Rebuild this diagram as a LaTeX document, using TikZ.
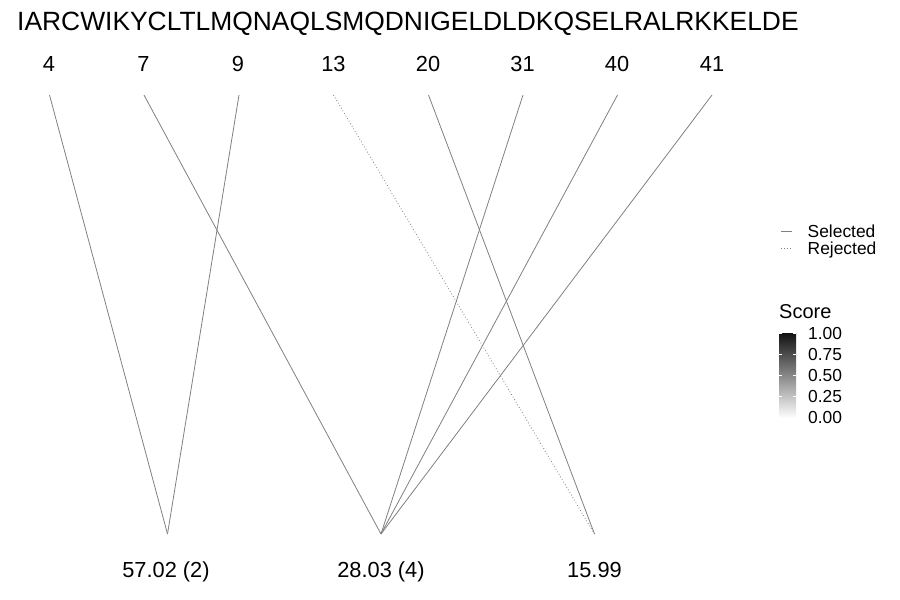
\documentclass[tikz,border=0pt]{standalone}
\usepackage{fontspec}
\setmainfont{Liberation Sans}
\begin{document}
\begin{tikzpicture}[x=1pt,y=-1pt,
  title/.style={font=\fontsize{26.4}{28}\selectfont, anchor=base west, inner sep=0pt},
  numlab/.style={font=\fontsize{21.8}{24}\selectfont, anchor=base, inner sep=0pt},
  leglab/.style={font=\fontsize{17.4}{19}\selectfont, anchor=base west, inner sep=0pt},
  sel/.style={draw=black!50, line width=0.8pt},
  rej/.style={draw=black!50, line width=0.8pt, dash pattern=on 0.8pt off 2.2pt},
  tick/.style={draw=white, line width=0.6pt}]
\useasboundingbox (0,0) rectangle (900,600);
% title
\node[title] (seq) at (17,30) {IARCWIKYCLTLMQNAQLSMQDNIGELDLDKQSELRALRKKELDE};
% top labels
\node[numlab] (l4) at (49,71) {4};
\node[numlab] (l7) at (143.5,71) {7};
\node[numlab] (l9) at (238,71) {9};
\node[numlab] (l13) at (333.5,71) {13};
\node[numlab] (l20) at (428,71) {20};
\node[numlab] (l31) at (522.5,71) {31};
\node[numlab] (l40) at (617,71) {40};
\node[numlab] (l41) at (712,71) {41};
% top end points
\coordinate (t4) at (49.5,95);
\coordinate (t7) at (144,95);
\coordinate (t9) at (239,95);
\coordinate (t13) at (333.5,95);
\coordinate (t20) at (428.5,95);
\coordinate (t31) at (523,95);
\coordinate (t40) at (617.5,95);
\coordinate (t41) at (712,95);
% bottom end points
\coordinate (b1) at (167.5,534);
\coordinate (b2) at (381,534);
\coordinate (b3) at (594.5,534);
% bottom labels
\node[numlab] (m1) at (166,577) {57.02 (2)};
\node[numlab] (m2) at (381,577) {28.03 (4)};
\node[numlab] (m3) at (594.5,577) {15.99};
% connectors
\draw[sel] (t4) -- (b1);
\draw[sel] (t9) -- (b1);
\draw[sel] (t7) -- (b2);
\draw[sel] (t31) -- (b2);
\draw[sel] (t40) -- (b2);
\draw[sel] (t41) -- (b2);
\draw[sel] (t20) -- (b3);
\draw[rej] (t13) -- (b3);
% legend: line type
\coordinate (s1) at (781,231);
\coordinate (s2) at (792,231);
\coordinate (r1) at (781,248);
\coordinate (r2) at (792,248);
\draw[sel] (s1) -- (s2);
\draw[rej] (r1) -- (r2);
\node[leglab] (selt) at (807.5,237) {Selected};
\node[leglab] (rejt) at (807.5,254) {Rejected};
% legend: score colourbar
\node[font=\fontsize{20}{22}\selectfont, anchor=base west, inner sep=0pt] (score) at (779,318.5) {Score};
\shade[top color=black!93, bottom color=white] (779,333) rectangle (796,418);
\foreach \yy in {333.5,354.5,375.5,396.5,417.5}{
  \draw[tick] (779,\yy) -- (782,\yy);
  \draw[tick] (793,\yy) -- (796,\yy);
}
\node[leglab] (c1) at (808,339) {1.00};
\node[leglab] (c2) at (808,360) {0.75};
\node[leglab] (c3) at (808,381) {0.50};
\node[leglab] (c4) at (808,402.5) {0.25};
\node[leglab] (c5) at (808,423.5) {0.00};
\end{tikzpicture}
\end{document}
